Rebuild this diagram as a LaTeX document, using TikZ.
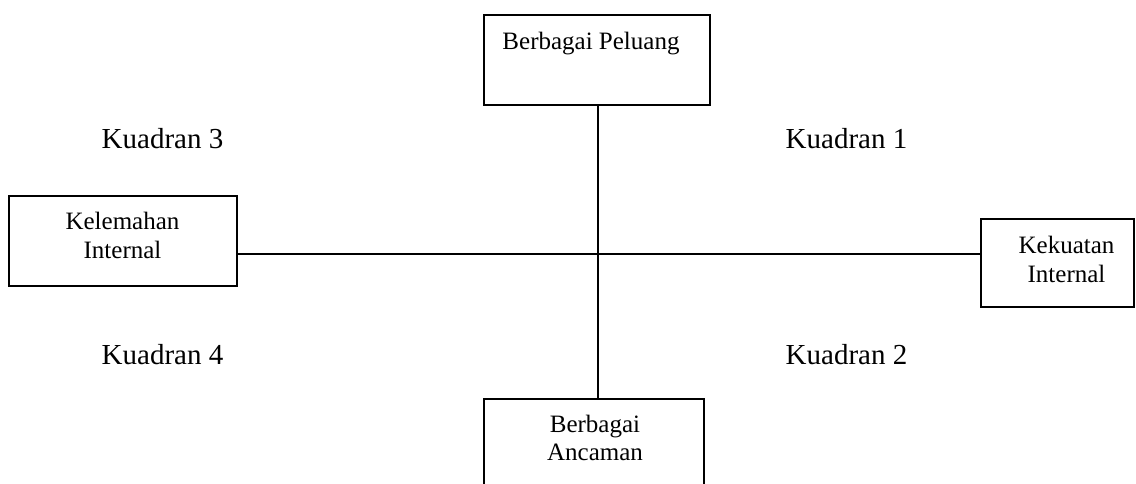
\documentclass[tikz,border=0pt]{standalone}
\usepackage{fontspec}
\setmainfont{Liberation Serif}
\begin{document}
\begin{tikzpicture}[x=1pt,y=-1pt,
  box/.style={draw=black,line width=1.6pt,rectangle,inner sep=0pt},
  boxtext/.style={anchor=base,inner sep=0pt,font=\fontsize{25}{29}\selectfont},
  quadtext/.style={anchor=base,inner sep=0pt,font=\fontsize{29}{34}\selectfont},
  axis/.style={line width=1.6pt}]
\useasboundingbox (0,0) rectangle (1136,483);
\fill[white] (0,0) rectangle (1136,483);

% crossing point of the two axes
\coordinate (centre) at (598,254);

% boxes
\node[box,minimum width=226pt,minimum height=90pt] (peluang) at (597,60) {};
\node[box,minimum width=228pt,minimum height=90pt] (kelemahan) at (123,241) {};
\node[box,minimum width=153pt,minimum height=88pt] (kekuatan) at (1057.5,263) {};
\node[box,minimum width=220pt,minimum height=100pt] (ancaman) at (594,449) {};

% box texts
\node[boxtext] (tpeluang) at (591,49) {Berbagai Peluang};
\node[boxtext] (tkel1) at (122.5,229) {Kelemahan};
\node[boxtext] (tkel2) at (122.5,258) {Internal};
\node[boxtext] (tkek1) at (1066.5,253) {Kekuatan};
\node[boxtext] (tkek2) at (1066.5,282) {Internal};
\node[boxtext] (tanc1) at (595,432) {Berbagai};
\node[boxtext] (tanc2) at (595,460) {Ancaman};

% axes
\draw[axis] (peluang.south -| centre) -- (ancaman.north -| centre);
\draw[axis] (kelemahan.east |- centre) -- (kekuatan.west |- centre);

% quadrant labels
\node[quadtext] (q3) at (162.5,148) {Kuadran 3};
\node[quadtext] (q1) at (846.5,148) {Kuadran 1};
\node[quadtext] (q4) at (162.5,364) {Kuadran 4};
\node[quadtext] (q2) at (846.5,364) {Kuadran 2};
\end{tikzpicture}
\end{document}
